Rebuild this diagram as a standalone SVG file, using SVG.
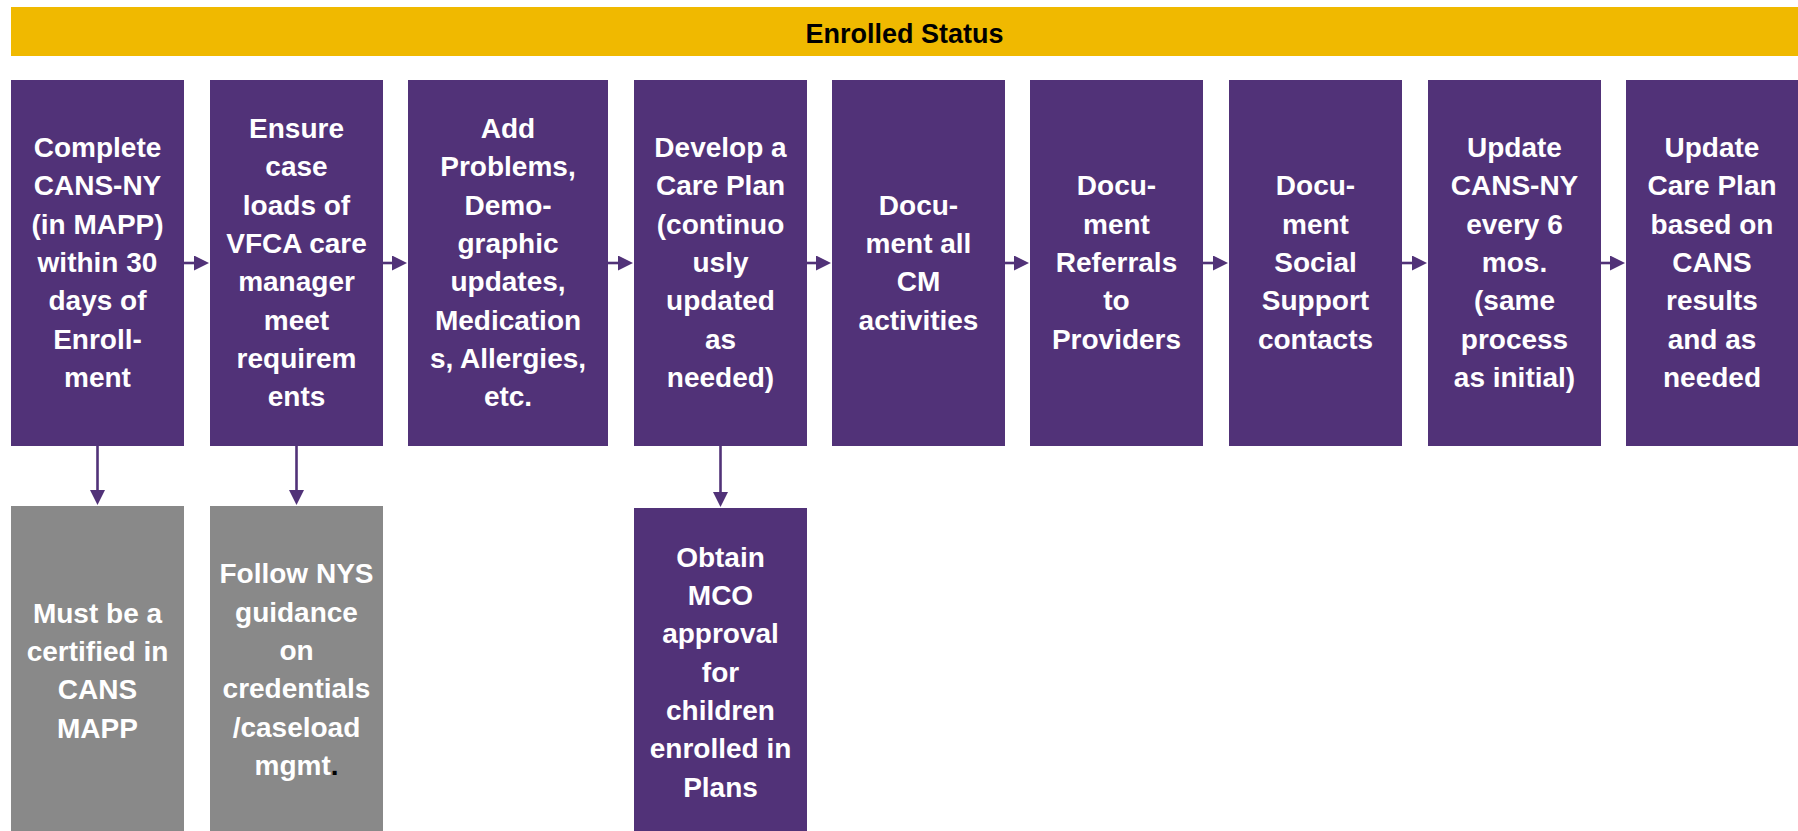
<svg xmlns="http://www.w3.org/2000/svg" width="1798" height="831" viewBox="0 0 1798 831">
<defs>
<style>
.box{fill:#513278}
.gbox{fill:#898989}
.t{font-family:"Liberation Sans",Arial,sans-serif;font-weight:bold;font-size:28px;fill:#ffffff;text-anchor:middle}
.title{font-family:"Liberation Sans",Arial,sans-serif;font-weight:bold;font-size:27px;fill:#000000;text-anchor:middle}
.conn{stroke:#513278;stroke-width:2.6;fill:none}
</style>
<marker id="ah" viewBox="0 0 15 15" refX="1" refY="7.5" markerWidth="15" markerHeight="15" markerUnits="userSpaceOnUse" orient="auto">
<path d="M0,0 L15,7.5 L0,15 Z" fill="#513278"/>
</marker>
</defs>
<rect width="1798" height="831" fill="#ffffff"/>

<g id="banner">
<rect x="11" y="7" width="1787" height="49" fill="#F0B900"/>
<text class="title" x="904.5" y="43">Enrolled Status</text>
</g>

<g id="connectors">
<path class="conn" d="M184,263 H195" marker-end="url(#ah)"/>
<path class="conn" d="M383,263 H393" marker-end="url(#ah)"/>
<path class="conn" d="M608,263 H619" marker-end="url(#ah)"/>
<path class="conn" d="M807,263 H817" marker-end="url(#ah)"/>
<path class="conn" d="M1005,263 H1015" marker-end="url(#ah)"/>
<path class="conn" d="M1203,263 H1214" marker-end="url(#ah)"/>
<path class="conn" d="M1402,263 H1413" marker-end="url(#ah)"/>
<path class="conn" d="M1601,263 H1611" marker-end="url(#ah)"/>
<path class="conn" d="M97.5,446 V491" marker-end="url(#ah)"/>
<path class="conn" d="M296.5,446 V491" marker-end="url(#ah)"/>
<path class="conn" d="M720.5,446 V493" marker-end="url(#ah)"/>
</g>

<g id="n1">
<rect class="box" x="11" y="80" width="173" height="366"/>
<text class="t"><tspan x="97.5" y="157">Complete</tspan><tspan x="97.5" y="195.3">CANS-NY</tspan><tspan x="97.5" y="233.7">(in MAPP)</tspan><tspan x="97.5" y="272">within 30</tspan><tspan x="97.5" y="310.3">days of</tspan><tspan x="97.5" y="348.7">Enroll-</tspan><tspan x="97.5" y="387">ment</tspan></text>
</g>

<g id="n2">
<rect class="box" x="210" y="80" width="173" height="366"/>
<text class="t"><tspan x="296.5" y="137.8">Ensure</tspan><tspan x="296.5" y="176.2">case</tspan><tspan x="296.5" y="214.5">loads of</tspan><tspan x="296.5" y="252.8">VFCA care</tspan><tspan x="296.5" y="291.2">manager</tspan><tspan x="296.5" y="329.5">meet</tspan><tspan x="296.5" y="367.8">requirem</tspan><tspan x="296.5" y="406.2">ents</tspan></text>
</g>

<g id="n3">
<rect class="box" x="408" y="80" width="200" height="366"/>
<text class="t"><tspan x="508" y="137.8">Add</tspan><tspan x="508" y="176.2">Problems,</tspan><tspan x="508" y="214.5">Demo-</tspan><tspan x="508" y="252.8">graphic</tspan><tspan x="508" y="291.2">updates,</tspan><tspan x="508" y="329.5">Medication</tspan><tspan x="508" y="367.8">s, Allergies,</tspan><tspan x="508" y="406.2">etc.</tspan></text>
</g>

<g id="n4">
<rect class="box" x="634" y="80" width="173" height="366"/>
<text class="t"><tspan x="720.5" y="157">Develop a</tspan><tspan x="720.5" y="195.3">Care Plan</tspan><tspan x="720.5" y="233.7">(continuo</tspan><tspan x="720.5" y="272">usly</tspan><tspan x="720.5" y="310.3">updated</tspan><tspan x="720.5" y="348.7">as</tspan><tspan x="720.5" y="387">needed)</tspan></text>
</g>

<g id="n5">
<rect class="box" x="832" y="80" width="173" height="366"/>
<text class="t"><tspan x="918.5" y="214.5">Docu-</tspan><tspan x="918.5" y="252.8">ment all</tspan><tspan x="918.5" y="291.2">CM</tspan><tspan x="918.5" y="329.5">activities</tspan></text>
</g>

<g id="n6">
<rect class="box" x="1030" y="80" width="173" height="366"/>
<text class="t"><tspan x="1116.5" y="195.3">Docu-</tspan><tspan x="1116.5" y="233.7">ment</tspan><tspan x="1116.5" y="272">Referrals</tspan><tspan x="1116.5" y="310.3">to</tspan><tspan x="1116.5" y="348.7">Providers</tspan></text>
</g>

<g id="n7">
<rect class="box" x="1229" y="80" width="173" height="366"/>
<text class="t"><tspan x="1315.5" y="195.3">Docu-</tspan><tspan x="1315.5" y="233.7">ment</tspan><tspan x="1315.5" y="272">Social</tspan><tspan x="1315.5" y="310.3">Support</tspan><tspan x="1315.5" y="348.7">contacts</tspan></text>
</g>

<g id="n8">
<rect class="box" x="1428" y="80" width="173" height="366"/>
<text class="t"><tspan x="1514.5" y="157">Update</tspan><tspan x="1514.5" y="195.3">CANS-NY</tspan><tspan x="1514.5" y="233.7">every 6</tspan><tspan x="1514.5" y="272">mos.</tspan><tspan x="1514.5" y="310.3">(same</tspan><tspan x="1514.5" y="348.7">process</tspan><tspan x="1514.5" y="387">as initial)</tspan></text>
</g>

<g id="n9">
<rect class="box" x="1626" y="80" width="172" height="366"/>
<text class="t"><tspan x="1712" y="157">Update</tspan><tspan x="1712" y="195.3">Care Plan</tspan><tspan x="1712" y="233.7">based on</tspan><tspan x="1712" y="272">CANS</tspan><tspan x="1712" y="310.3">results</tspan><tspan x="1712" y="348.7">and as</tspan><tspan x="1712" y="387">needed</tspan></text>
</g>

<g id="n1b">
<rect class="gbox" x="11" y="506" width="173" height="325"/>
<text class="t"><tspan x="97.5" y="622.5">Must be a</tspan><tspan x="97.5" y="660.8">certified in</tspan><tspan x="97.5" y="699.2">CANS</tspan><tspan x="97.5" y="737.5">MAPP</tspan></text>
</g>

<g id="n2b">
<rect class="gbox" x="210" y="506" width="173" height="325"/>
<text class="t"><tspan x="296.5" y="583.3">Follow NYS</tspan><tspan x="296.5" y="621.7">guidance</tspan><tspan x="296.5" y="660">on</tspan><tspan x="296.5" y="698.3">credentials</tspan><tspan x="296.5" y="736.7">/caseload</tspan><tspan x="296.5" y="775">mgmt<tspan fill="#000000">.</tspan></tspan></text>
</g>

<g id="n4b">
<rect class="box" x="634" y="508" width="173" height="323"/>
<text class="t"><tspan x="720.5" y="566.7">Obtain</tspan><tspan x="720.5" y="605">MCO</tspan><tspan x="720.5" y="643.3">approval</tspan><tspan x="720.5" y="681.7">for</tspan><tspan x="720.5" y="720">children</tspan><tspan x="720.5" y="758.3">enrolled in</tspan><tspan x="720.5" y="796.7">Plans</tspan></text>
</g>
</svg>
